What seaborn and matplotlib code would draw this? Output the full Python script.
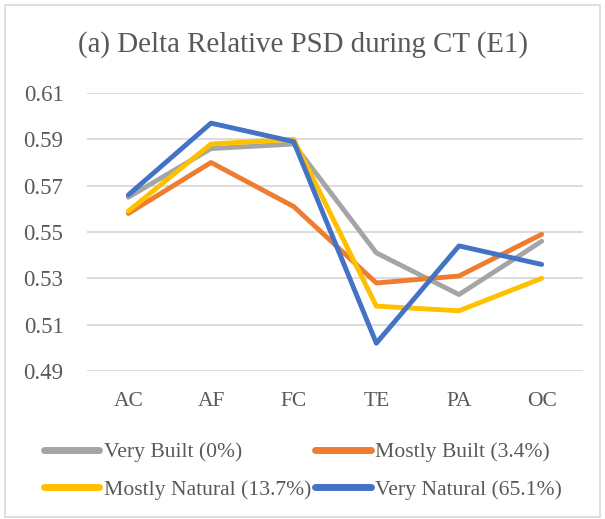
import matplotlib
matplotlib.use("Agg")
import matplotlib.pyplot as plt
from matplotlib.patches import Rectangle
from matplotlib.lines import Line2D
import pandas as pd
import seaborn as sns

# Regions along the x axis
regions = ["AC", "AF", "FC", "TE", "PA", "OC"]

# Delta relative PSD per environment group
very_built = [0.565, 0.586, 0.588, 0.541, 0.523, 0.546]
mostly_built = [0.558, 0.580, 0.561, 0.528, 0.531, 0.549]
mostly_natural = [0.559, 0.588, 0.590, 0.518, 0.516, 0.530]
very_natural = [0.566, 0.597, 0.589, 0.502, 0.544, 0.536]

series_names = ["Very Built (0%)", "Mostly Built (3.4%)",
                "Mostly Natural (13.7%)", "Very Natural (65.1%)"]
series_values = [very_built, mostly_built, mostly_natural, very_natural]
colors = ["#A5A5A5", "#ED7D31", "#FFC000", "#4472C4"]

y_ticks = [0.49, 0.51, 0.53, 0.55, 0.57, 0.59, 0.61]

rows = []
for name, vals in zip(series_names, series_values):
    for r, v in zip(regions, vals):
        rows.append({"region": r, "psd": v, "group": name})
df = pd.DataFrame(rows)

sns.set_theme(style="white")
plt.rcParams["font.family"] = ["Liberation Serif", "DejaVu Serif"]
text_color = "#595959"

W, H = 605, 519
fig = plt.figure(figsize=(W / 100, H / 100), dpi=100)
ax = fig.add_axes([87 / W, (H - 371) / H, (583 - 87) / W, (371 - 93) / H])

sns.lineplot(data=df, x="region", y="psd", hue="group",
             hue_order=series_names, palette=colors, sort=False,
             linewidth=3.5, ax=ax, legend=False, zorder=3)
for ln in ax.lines:
    ln.set_solid_capstyle("round")
    ln.set_solid_joinstyle("round")

ax.set_xlim(-0.5, len(regions) - 0.5)
ax.set_ylim(0.49, 0.61)
ax.set_yticks(y_ticks)
ax.set_yticklabels([f"{t:.2f}" for t in y_ticks])
ax.yaxis.grid(True, color="#D9D9D9", linewidth=1.3, zorder=0)
ax.xaxis.grid(False)
for s in ax.spines.values():
    s.set_visible(False)
ax.tick_params(axis="both", length=0, colors=text_color)
ax.tick_params(axis="y", pad=17, labelsize=16.5)
ax.tick_params(axis="x", pad=15, labelsize=15.5)
ax.set_xlabel("")
ax.set_ylabel("")

fig.text(0.5, (H - 45) / H, "(a) Delta Relative PSD during CT (E1)",
         ha="center", va="center", fontsize=20.8, color=text_color)

# Legend filled row by row: two entries per row
order = [0, 2, 1, 3]
handles = [Line2D([0], [0], color=colors[i], linewidth=5, solid_capstyle="round")
           for i in order]
labels = [series_names[i] for i in order]
leg = fig.legend(handles, labels, ncol=2, loc="upper left",
                 bbox_to_anchor=(44 / W, (H - 442) / H), frameon=False,
                 fontsize=15.6, handlelength=2.55, handletextpad=0.2,
                 columnspacing=0.2, labelspacing=0.8, borderpad=0,
                 borderaxespad=0)
for t in leg.get_texts():
    t.set_color(text_color)

fig.patches.append(Rectangle((5 / W, 2 / H), (W - 5.5) / W - 5 / W, (H - 7) / H,
                             transform=fig.transFigure, fill=False,
                             edgecolor="#D9D9D9", linewidth=1.2))

fig.savefig("out.png", dpi=100)
